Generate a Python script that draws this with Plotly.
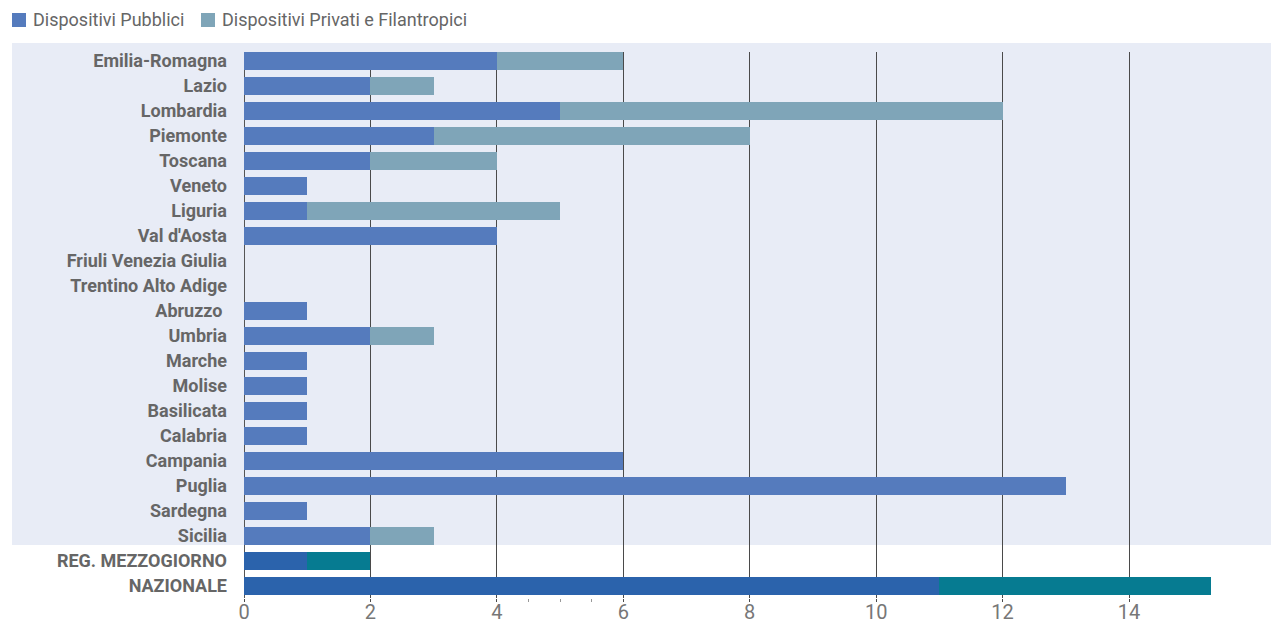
import plotly.graph_objects as go

regions = ["Emilia-Romagna", "Lazio", "Lombardia", "Piemonte", "Toscana", "Veneto",
           "Liguria", "Val d'Aosta", "Friuli Venezia Giulia", "Trentino Alto Adige",
           "Abruzzo ", "Umbria", "Marche", "Molise", "Basilicata", "Calabria",
           "Campania", "Puglia", "Sardegna", "Sicilia"]
pubblici = [4, 2, 5, 3, 2, 1, 1, 4, 0, 0, 1, 2, 1, 1, 1, 1, 6, 13, 1, 2]
privati = [2, 1, 7, 5, 2, 0, 4, 0, 0, 0, 0, 1, 0, 0, 0, 0, 0, 0, 0, 1]

totals = ["REG. MEZZOGIORNO", "NAZIONALE"]
tot_pubblici = [1, 11]
tot_privati = [1, 4.3]

x_ticks = [0, 2, 4, 6, 8, 10, 12, 14]
minor_ticks = [4.5, 5, 5.5]

series_names = ["Dispositivi Pubblici", "Dispositivi Privati e Filantropici"]
c_pub, c_priv = "#557bbd", "#7fa5b8"
c_pub_tot, c_priv_tot = "#2b63ac", "#067b91"

categories = regions + totals

fig = go.Figure()
fig.add_trace(go.Bar(y=regions, x=pubblici, orientation="h", marker=dict(color=c_pub, line=dict(width=0)),
                     name=series_names[0], showlegend=False))
fig.add_trace(go.Bar(y=regions, x=privati, orientation="h", marker=dict(color=c_priv, line=dict(width=0)),
                     name=series_names[1], showlegend=False))
fig.add_trace(go.Bar(y=totals, x=tot_pubblici, orientation="h", marker=dict(color=c_pub_tot, line=dict(width=0)),
                     name=series_names[0], showlegend=False))
fig.add_trace(go.Bar(y=totals, x=tot_privati, orientation="h", marker=dict(color=c_priv_tot, line=dict(width=0)),
                     name=series_names[1], showlegend=False))

W, H = 1271, 623
L, R, T, B = 244, 1, 52, 25
pw, ph = W - L - R, H - T - B

def px(xp):
    return (xp - L) / pw

def py(yp):
    return (H - B - yp) / ph

shapes = [
    dict(type="rect", xref="paper", yref="paper", x0=px(12), x1=px(1272), y0=py(545), y1=py(43),
         fillcolor="#e8ecf6", line=dict(width=0), layer="below"),
    dict(type="rect", xref="paper", yref="paper", x0=px(12), x1=px(26), y0=py(27), y1=py(13),
         fillcolor=c_pub, line=dict(width=0)),
    dict(type="rect", xref="paper", yref="paper", x0=px(201), x1=px(215), y0=py(27), y1=py(13),
         fillcolor=c_priv, line=dict(width=0)),
]
annotations = [
    dict(text=series_names[0], xref="paper", yref="paper", x=px(31), y=py(20), xanchor="left",
         yanchor="middle", showarrow=False, font=dict(family="Roboto", size=18, color="#666666")),
    dict(text=series_names[1], xref="paper", yref="paper", x=px(220), y=py(20), xanchor="left",
         yanchor="middle", showarrow=False, font=dict(family="Roboto", size=18, color="#666666")),
]

n = len(categories)
fig.update_layout(
    width=W, height=H,
    margin=dict(l=L, r=R, t=T, b=B, pad=0, autoexpand=False),
    barmode="stack", bargap=0.28,
    plot_bgcolor="rgba(0,0,0,0)", paper_bgcolor="white",
    showlegend=False,
    shapes=shapes, annotations=annotations,
    xaxis=dict(range=[0, 16.23], tickvals=x_ticks, showgrid=True, gridcolor="#4a4a4a", gridwidth=1,
               automargin=False,
               zeroline=True, zerolinecolor="#555555", zerolinewidth=1,
               ticks="outside", ticklen=3, tickcolor="#4a4a4a", ticklabelstandoff=-7,
               tickfont=dict(family="Roboto", size=20, color="#777777"),
               minor=dict(tickvals=minor_ticks, ticks="outside", ticklen=3, tickcolor="#999999", showgrid=False)),
    yaxis=dict(type="category", categoryorder="array", categoryarray=categories, automargin=False,
               range=[n - 1 + 0.48, -0.36], showgrid=False, zeroline=False, ticks="",
               ticklabelstandoff=16,
               tickfont=dict(family="Roboto", size=18, color="#666666", weight="bold")),
    font=dict(family="Roboto"),
)

fig.write_html("out.html")
